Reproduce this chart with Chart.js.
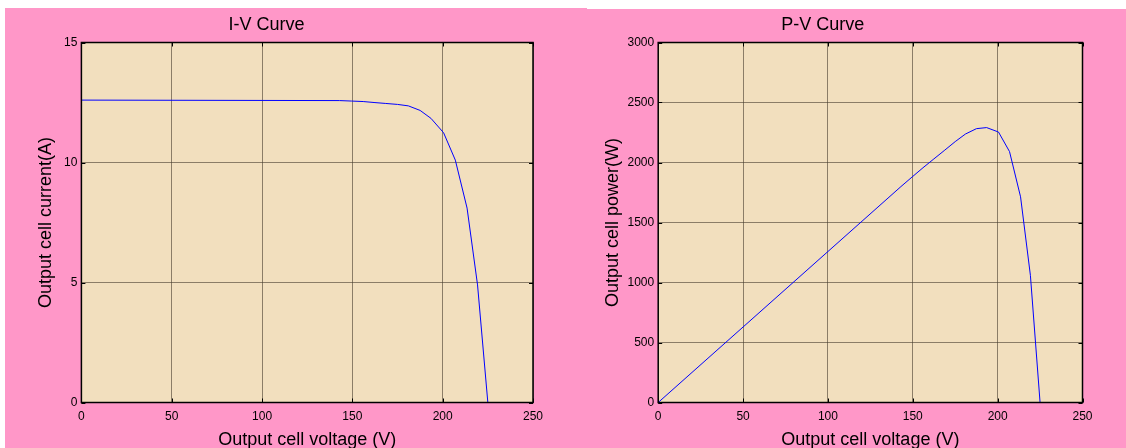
<!DOCTYPE html>
<html>
<head>
<meta charset="utf-8">
<script src="https://cdn.jsdelivr.net/npm/chart.js@4"></script>
<style>
  html, body { margin: 0; padding: 0; width: 1126px; height: 448px; overflow: hidden; background: #ff97c8; }
  canvas { position: absolute; top: 0; }
  #ivChart { left: 0; }
  #pvChart { left: 563px; }
  .strip { position: absolute; background: #fff; z-index: 5; }
</style>
</head>
<body>
<canvas id="ivChart" width="614" height="456"></canvas>
<canvas id="pvChart" width="615" height="456"></canvas>
<div class="strip" style="left:0;top:0;width:1126px;height:8px"></div>
<div class="strip" style="left:587px;top:0;width:539px;height:9px"></div>
<div class="strip" style="left:0;top:0;width:5px;height:448px"></div>
<script>
// values
const voltage = [0, 143, 149.5, 156, 162, 168.5, 175, 181, 187.5, 193.5, 200.5, 207, 213.5, 219.3, 225];
const current = [12.6, 12.58, 12.56, 12.54, 12.5, 12.46, 12.42, 12.36, 12.17, 11.84, 11.24, 10.1, 8.1, 4.9, 0];
const power = [0, 1799, 1878, 1956, 2025, 2099, 2174, 2237, 2282, 2291, 2254, 2091, 1714, 1060, 0];

const voltageTicks = [0, 50, 100, 150, 200, 250];
const currentTicks = [0, 5, 10, 15];
const powerTicks = [0, 500, 1000, 1500, 2000, 2500, 3000];

const FONT = 'Liberation Sans, Arial, sans-serif';
const GRID = 'rgba(70,60,45,0.6)';

// beige plot area, black box and small inward ticks like the matlab axes
const framePlugin = {
    id: 'frame',
    beforeDraw(chart) {
        const { ctx, chartArea: a } = chart;
        ctx.save();
        ctx.fillStyle = '#f2dfbe';
        ctx.fillRect(a.left, a.top, a.right - a.left, a.bottom - a.top);
        ctx.restore();
    },
    afterDatasetsDraw(chart) {
        const { ctx, chartArea: a, scales } = chart;
        ctx.save();
        ctx.strokeStyle = '#000';
        ctx.lineWidth = 1;
        ctx.beginPath();
        scales.x.ticks.forEach(t => {
            const px = Math.round(scales.x.getPixelForValue(t.value)) + 0.5;
            ctx.moveTo(px, a.bottom); ctx.lineTo(px, a.bottom - 4);
            ctx.moveTo(px, a.top); ctx.lineTo(px, a.top + 4);
        });
        scales.y.ticks.forEach(t => {
            const py = Math.round(scales.y.getPixelForValue(t.value)) + 0.5;
            ctx.moveTo(a.left, py); ctx.lineTo(a.left + 4, py);
            ctx.moveTo(a.right, py); ctx.lineTo(a.right - 4, py);
        });
        ctx.stroke();
        ctx.lineWidth = 1.5;
        ctx.strokeRect(a.left, a.top, a.right - a.left, a.bottom - a.top);
        ctx.restore();
    }
};

function makeCurve(canvasId, title, yValues, yTicks, yLabel, yWidth, yTitlePad, rightPad) {
    const points = voltage.map((v, i) => ({ x: v, y: yValues[i] }));
    const ctx = document.getElementById(canvasId).getContext('2d');
    return new Chart(ctx, {
        type: 'line',
        data: {
            datasets: [{
                data: points,
                borderColor: '#0000ff',
                borderWidth: 1,
                pointRadius: 0,
                tension: 0,
                fill: false
            }]
        },
        options: {
            responsive: false,
            animation: false,
            devicePixelRatio: 1,
            layout: { padding: { left: 0, top: 0, right: rightPad, bottom: 0 } },
            plugins: {
                legend: { display: false },
                tooltip: { enabled: false },
                title: {
                    display: true,
                    text: title,
                    color: '#000',
                    font: { family: FONT, size: 18, weight: 'normal', lineHeight: 1 },
                    padding: { top: 16.2, bottom: 8.3 }
                }
            },
            scales: {
                x: {
                    type: 'linear',
                    min: 0, max: 250,
                    afterBuildTicks: s => { s.ticks = voltageTicks.map(v => ({ value: v })); },
                    afterFit: s => { s.height = 53.5; },
                    grid: { color: GRID, lineWidth: 1, drawTicks: false },
                    border: { display: false },
                    ticks: { color: '#000', padding: 7, maxRotation: 0, font: { family: FONT, size: 12 }, callback: v => String(v) },
                    title: {
                        display: true,
                        text: 'Output cell voltage (V)',
                        color: '#000',
                        font: { family: FONT, size: 18, lineHeight: 1 },
                        padding: { top: 0, bottom: 6.8 }
                    }
                },
                y: {
                    min: yTicks[0], max: yTicks[yTicks.length - 1],
                    afterBuildTicks: s => { s.ticks = yTicks.map(v => ({ value: v })); },
                    afterFit: s => { s.width = yWidth; },
                    grid: { color: GRID, lineWidth: 1, drawTicks: false },
                    border: { display: false },
                    ticks: { color: '#000', padding: 4, font: { family: FONT, size: 12 }, callback: v => String(v) },
                    title: {
                        display: true,
                        text: yLabel,
                        color: '#000',
                        font: { family: FONT, size: 18, lineHeight: 1 },
                        padding: { top: yTitlePad, bottom: 0 }
                    }
                }
            }
        },
        plugins: [framePlugin]
    });
}

makeCurve('ivChart', 'I-V Curve', current, currentTicks, 'Output cell current(A)', 81.4, 37.2, 81);
makeCurve('pvChart', 'P-V Curve', power, powerTicks, 'Output cell power(W)', 95.2, 41.3, 95.5);
</script>
</body>
</html>
